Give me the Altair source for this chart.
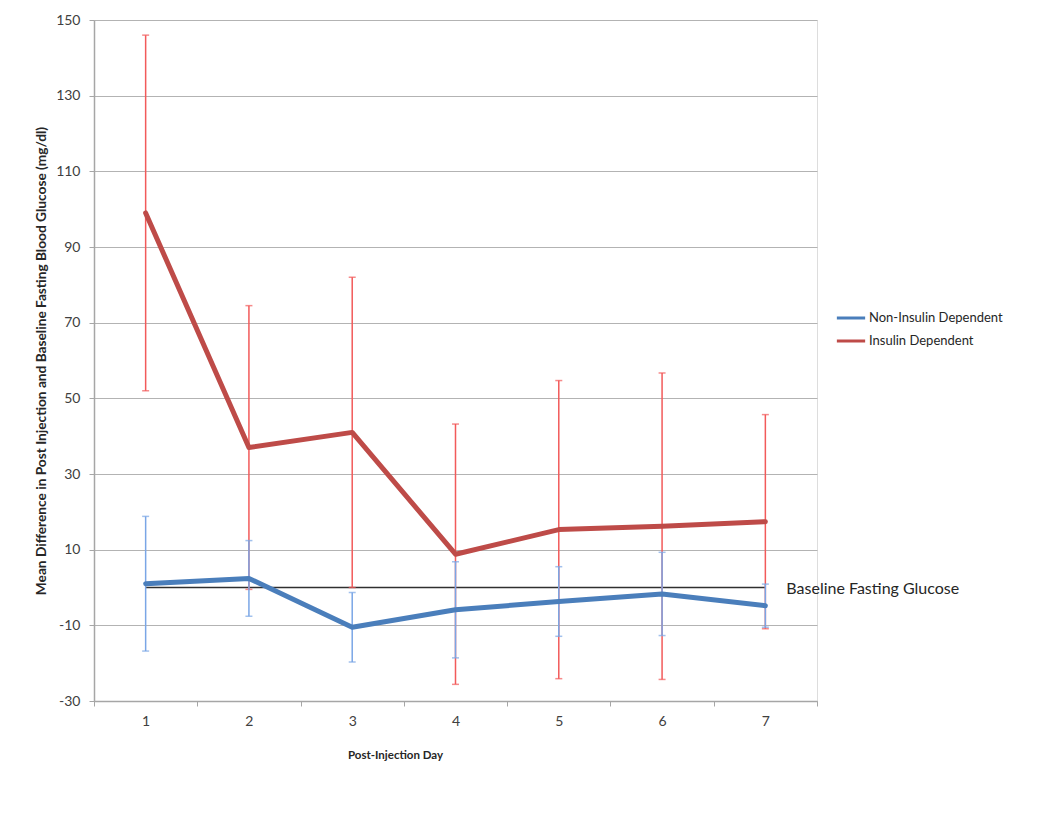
import altair as alt
import pandas as pd

days = [1, 2, 3, 4, 5, 6, 7]
series_names = ["Non-Insulin Dependent", "Insulin Dependent"]
non_mean = [1.0, 2.4, -10.5, -5.9, -3.7, -1.7, -4.8]
non_err = [17.8, 10.0, 9.2, 12.7, 9.2, 11.0, 5.7]
ins_mean = [99.0, 37.0, 41.0, 8.8, 15.3, 16.2, 17.4]
ins_err = [47.0, 37.5, 41.0, 34.4, 39.4, 40.5, 28.3]
y_ticks = [-30, -10, 10, 30, 50, 70, 90, 110, 130, 150]
x_bounds = [0.5, 1.5, 2.5, 3.5, 4.5, 5.5, 6.5, 7.5]
baseline_label = "Baseline Fasting Glucose"

rows = []
for name, means, errs in [(series_names[0], non_mean, non_err), (series_names[1], ins_mean, ins_err)]:
    for d, m, e in zip(days, means, errs):
        rows.append({"series": name, "day": d, "mean": m, "lo": m - e, "hi": m + e})
df = pd.DataFrame(rows)

W, H = 723, 681
band = W / 7.0
FONT = "Lato"

xscale = alt.Scale(domain=[0.5, 7.5], nice=False, zero=False)
yscale = alt.Scale(domain=[-30, 150], nice=False, zero=False)

x_axis = alt.Axis(
    values=x_bounds,
    labelExpr="datum.value < 7 ? '' + (datum.value + 0.5) : ''",
    labelOffset=band / 2,
    labelFlush=False,
    labelOverlap=False,
    grid=False,
    tickSize=5,
    tickColor="#a6a6a6",
    domainColor="#a6a6a6",
    domainWidth=1.5,
    labelPadding=8,
    labelFont=FONT,
    labelFontSize=14,
    labelColor="#404040",
    title="Post-Injection Day",
    titleFont=FONT,
    titleFontSize=11.5,
    titleFontWeight="bold",
    titleColor="#262626",
    titleX=301,
    titleY=48,
    titleAlign="center",
    titleBaseline="top",
)
y_axis = alt.Axis(
    values=y_ticks,
    labelExpr="'' + datum.value",
    grid=True,
    gridColor="#b3b3b3",
    gridWidth=1.2,
    tickSize=5,
    tickColor="#a6a6a6",
    domainColor="#a6a6a6",
    domainWidth=1.5,
    labelPadding=9,
    labelFont=FONT,
    labelFontSize=14,
    labelColor="#404040",
    title="Mean Difference in Post Injection and Baseline Fasting Blood Glucose (mg/dl)",
    titleFont=FONT,
    titleFontSize=13.7,
    titleFontWeight="bold",
    titleColor="#262626",
    titlePadding=7,
)

base = alt.Chart(df)

axes_layer = base.mark_point(opacity=0).encode(
    x=alt.X("day:Q", scale=xscale, axis=x_axis),
    y=alt.Y("mean:Q", scale=yscale, axis=y_axis),
)

baseline_df = pd.DataFrame({"x1": [days[0]], "x2": [days[-1]], "y": [0], "label": [baseline_label]})
baseline_rule = alt.Chart(baseline_df).mark_rule(color="#303030", strokeWidth=1.5).encode(
    x=alt.X("x1:Q", scale=xscale),
    x2="x2:Q",
    y=alt.Y("y:Q", scale=yscale),
)
baseline_text = alt.Chart(baseline_df).mark_text(
    align="left", baseline="middle", dx=21, dy=1, font=FONT, fontSize=16, color="#262626"
).encode(
    x=alt.X("x2:Q", scale=xscale),
    y=alt.Y("y:Q", scale=yscale),
    text="label:N",
)

err_layers = []
for name, col in [(series_names[1], "#f25a5a"), (series_names[0], "#7aa6e6")]:
    sub = base.transform_filter(alt.datum.series == name)
    err_layers.append(
        sub.mark_rule(color=col, strokeWidth=1.5).encode(
            x=alt.X("day:Q", scale=xscale),
            y=alt.Y("lo:Q", scale=yscale),
            y2="hi:Q",
        )
    )
    for f in ["lo", "hi"]:
        err_layers.append(
            sub.mark_tick(color=col, orient="horizontal", size=7, thickness=1.5).encode(
                x=alt.X("day:Q", scale=xscale),
                y=alt.Y(f + ":Q", scale=yscale),
            )
        )

lines = base.mark_line(strokeWidth=5, strokeJoin="round", strokeCap="round").encode(
    x=alt.X("day:Q", scale=xscale),
    y=alt.Y("mean:Q", scale=yscale),
    color=alt.Color(
        "series:N",
        scale=alt.Scale(domain=series_names, range=["#4a7ebb", "#be4b48"]),
        legend=alt.Legend(
            title=None,
            orient="none",
            legendX=741,
            legendY=282,
            symbolType="stroke",
            symbolSize=800,
            symbolStrokeWidth=3,
            rowPadding=0,
            labelOffset=2,
            labelFont=FONT,
            labelFontSize=13,
            labelColor="#262626",
            padding=0,
        ),
    ),
    order="day:Q",
)

chart = alt.layer(axes_layer, baseline_rule, *err_layers, lines, baseline_text).properties(
    width=W,
    height=H,
    padding={"left": 86, "top": 12, "right": 220, "bottom": 90},
    autosize=alt.AutoSizeParams(type="none"),
).configure_view(stroke=None).configure(background="white")

chart.save("out.html", embed_options={"renderer": "svg", "actions": False})
